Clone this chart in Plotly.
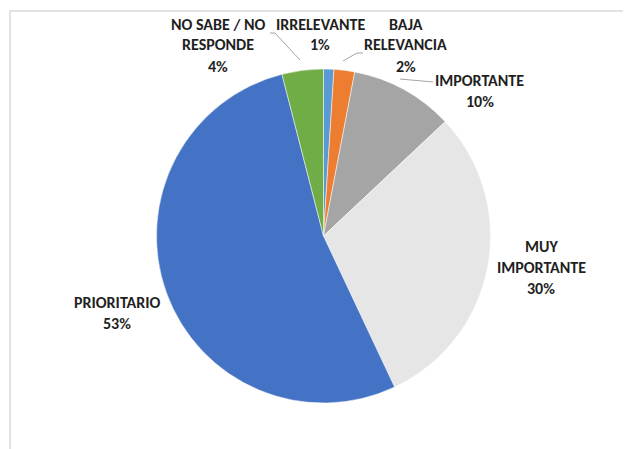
import plotly.graph_objects as go

# Data
categories = ["IRRELEVANTE", "BAJA RELEVANCIA", "IMPORTANTE", "MUY IMPORTANTE", "PRIORITARIO", "NO SABE / NO RESPONDE"]
values = [1, 2, 10, 30, 53, 4]
label_lines = [["IRRELEVANTE"], ["BAJA", "RELEVANCIA"], ["IMPORTANTE"], ["MUY", "IMPORTANTE"], ["PRIORITARIO"], ["NO SABE / NO", "RESPONDE"]]
colors = ["#5B9BD5", "#ED7D31", "#A5A5A5", "#E7E6E6", "#4472C4", "#70AD47"]

W, H = 631, 449
OFF = 8  # page body margin offset
# label anchor (center x, first-line y) in pixels of the target picture
label_pos = [(320, 24), (406, 24), (480, 80), (541, 246), (117, 302), (218, 24)]
line_gap = 21

cx, cy, r = 323.5, 236, 167

def px(x):
    return (x - OFF) / W

def py(y):
    return 1 - (y - OFF) / H

fig = go.Figure()
fig.add_trace(go.Pie(
    labels=categories,
    values=values,
    sort=False,
    direction="clockwise",
    rotation=0,
    marker=dict(colors=colors, line=dict(color="white", width=0.5)),
    textinfo="none",
    hoverinfo="label+percent",
    showlegend=False,
    domain=dict(x=[px(cx - r), px(cx + r)], y=[py(cy + r), py(cy - r)]),
))

font = dict(family="Carlito, Lato, Roboto, sans-serif", size=16, color="#1f1f1f")
annotations = []
for lines, v, (x, y) in zip(label_lines, values, label_pos):
    for i, t in enumerate(lines + [f"{v}%"]):
        annotations.append(dict(
            x=px(x), y=py(y + i * line_gap), xref="paper", yref="paper",
            text=f"<b>{t}</b>", showarrow=False, font=font,
            xanchor="center", yanchor="middle",
        ))

leader = [
    [(270, 33), (275, 33), (300, 60)],
    [(343, 61), (357, 53), (363, 53)],
    [(400, 79), (433, 82)],
]
shapes = []
for pts in leader:
    for (x0, y0), (x1, y1) in zip(pts[:-1], pts[1:]):
        shapes.append(dict(type="line", xref="paper", yref="paper",
                           x0=px(x0), y0=py(y0), x1=px(x1), y1=py(y1),
                           line=dict(color="#A6A6A6", width=1)))
# chart frame
shapes.append(dict(type="rect", xref="paper", yref="paper",
                   x0=px(10), y0=py(470), x1=px(660), y1=py(11),
                   line=dict(color="#D9D9D9", width=1.5)))

fig.update_layout(
    width=W, height=H,
    margin=dict(l=0, r=0, t=0, b=0),
    paper_bgcolor="white", plot_bgcolor="white",
    annotations=annotations, shapes=shapes,
)
fig.write_html("out.html")
